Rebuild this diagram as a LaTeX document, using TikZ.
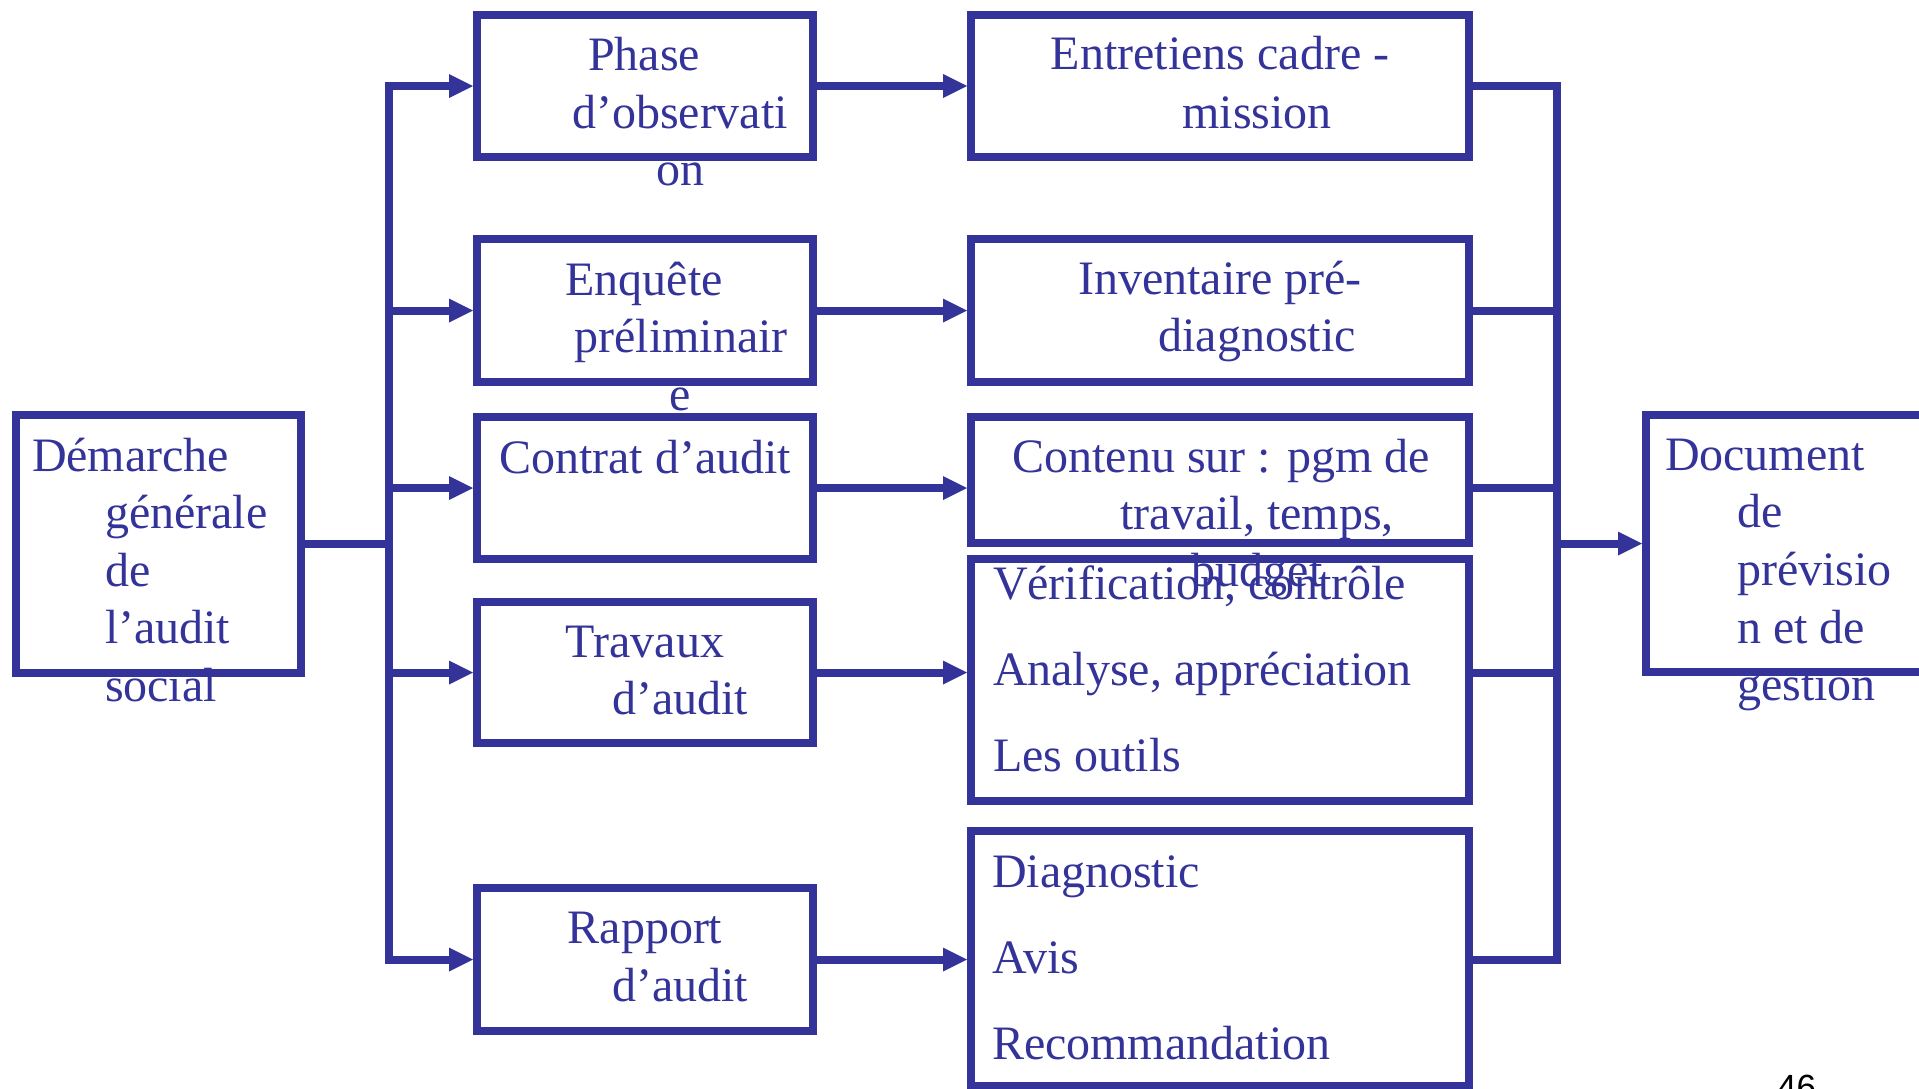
\documentclass[tikz,border=0pt]{standalone}
\usepackage{fontspec}
\setmainfont{Liberation Serif}
\newfontfamily\pagenumfont{Liberation Sans}
\usetikzlibrary{arrows.meta}
\definecolor{slideblue}{RGB}{51,51,153}
\begin{document}
\begin{tikzpicture}[x=1pt,y=-1pt,
  frame/.style={draw=slideblue, line width=8pt, inner sep=0pt, outer sep=4pt,
                rectangle, line join=miter},
  txt/.style={text=slideblue, inner sep=0pt, outer sep=0pt, anchor=base,
              font=\fontsize{48}{57.5}\selectfont},
  txtl/.style={txt, anchor=base west},
  link/.style={draw=slideblue, line width=8pt, line join=miter},
  tip/.tip={Triangle[length=24pt,width=24pt,line width=0pt]},
  arr/.style={link, -tip},
]
\useasboundingbox (0,0) rectangle (1919,1088);

% boxes
\node[frame, minimum width=285pt, minimum height=258pt] (dem) at (158.5,544) {};
\node[frame, minimum width=336pt, minimum height=142pt] (phase) at (645,86) {};
\node[frame, minimum width=336pt, minimum height=143pt] (enq) at (645,310.5) {};
\node[frame, minimum width=336pt, minimum height=142pt] (contrat) at (645,488) {};
\node[frame, minimum width=336pt, minimum height=141pt] (travaux) at (645,672.5) {};
\node[frame, minimum width=336pt, minimum height=143pt] (rapport) at (645,959.5) {};
\node[frame, minimum width=498pt, minimum height=142pt] (ent) at (1220,86) {};
\node[frame, minimum width=498pt, minimum height=143pt] (inv) at (1220,310.5) {};
\node[frame, minimum width=498pt, minimum height=126pt] (contenu) at (1220,480) {};
\node[frame, minimum width=498pt, minimum height=242pt] (verif) at (1220,680) {};
\node[frame, minimum width=498pt, minimum height=255pt] (diag) at (1220,958.5) {};
\node[frame, minimum width=280pt, minimum height=257pt] (doc) at (1786,543.5) {};

% bus lines
\coordinate (lbus) at (389,544);
\coordinate (rbus) at (1557,543.5);

\draw[link] (dem.east) -- (lbus);
\draw[link, tip-tip] (phase.west) -- (lbus |- phase.west) -- (lbus |- rapport.west) -- (rapport.west);
\draw[arr] (lbus |- enq.west) -- (enq.west);
\draw[arr] (lbus |- contrat.west) -- (contrat.west);
\draw[arr] (lbus |- travaux.west) -- (travaux.west);

\draw[arr] (phase.east) -- (ent.west);
\draw[arr] (enq.east) -- (inv.west);
\draw[arr] (contrat.east) -- (contrat.east -| contenu.west);
\draw[arr] (travaux.east) -- (travaux.east -| verif.west);
\draw[arr] (rapport.east) -- (rapport.east -| diag.west);

\draw[link] (ent.east) -- (rbus |- ent.east) -- (rbus |- rapport.east) -- (rapport.east -| diag.east);
\draw[link] (inv.east) -- (rbus |- inv.east);
\draw[link] (contrat.east -| contenu.east) -- (rbus |- contrat.east);
\draw[link] (travaux.east -| verif.east) -- (rbus |- travaux.east);
\draw[arr] (rbus) -- (doc.west);

% texts
\node[txtl] (dem1) at (32,471) {Démarche};
\node[txtl] (dem2) at (105,528.5) {générale};
\node[txtl] (dem3) at (105,586) {de};
\node[txtl] (dem4) at (105,643.5) {l’audit};
\node[txtl] (dem5) at (105,701) {social};

\node[txt] (ph1) at (644,70) {Phase};
\node[txt] (ph2) at (680,128) {d’observati};
\node[txt] (ph3) at (680,185) {on};

\node[txt] (en1) at (644,295) {Enquête};
\node[txt] (en2) at (681,352.5) {préliminair};
\node[txt] (en3) at (680,410) {e};

\node[txt] (co1) at (645,473) {Contrat d’audit};

\node[txt] (tr1) at (645,657) {Travaux};
\node[txt] (tr2) at (680,714) {d’audit};

\node[txt] (ra1) at (645,943) {Rapport};
\node[txt] (ra2) at (680,1001) {d’audit};

\node[txt] (et1) at (1220,69) {Entretiens cadre -};
\node[txt] (et2) at (1257,128) {mission};

\node[txt] (iv1) at (1220,294) {Inventaire pré-};
\node[txt] (iv2) at (1257,351) {diagnostic};

\node[txt] (cn1) at (1221,472) {Contenu sur : pgm de};
\node[txt] (cn2) at (1257,529) {travail, temps,};
\node[txt] (cn3) at (1257,586) {budget};

\node[txtl] (ve1) at (993,599) {Vérification, contrôle};
\node[txtl] (ve2) at (993,685) {Analyse, appréciation};
\node[txtl] (ve3) at (993,771) {Les outils};

\node[txtl] (di1) at (992,887) {Diagnostic};
\node[txtl] (di2) at (992,973) {Avis};
\node[txtl] (di3) at (992,1059) {Recommandation};

\node[txtl] (do1) at (1665,470) {Document};
\node[txtl] (do2) at (1737,527) {de};
\node[txtl] (do3) at (1737,585) {prévisio};
\node[txtl] (do4) at (1737,643) {n et de};
\node[txtl] (do5) at (1737,700) {gestion};

\node[inner sep=0pt, anchor=base west, font=\pagenumfont\fontsize{35}{40}\selectfont] (pgnum) at (1777,1099) {46};
\end{tikzpicture}
\end{document}
